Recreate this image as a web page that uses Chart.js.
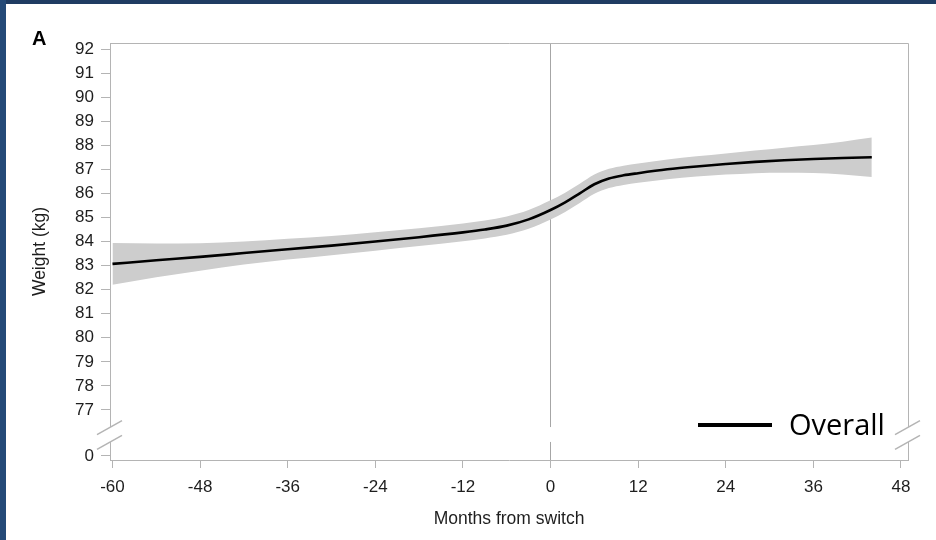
<!DOCTYPE html>
<html>
<head>
<meta charset="utf-8">
<script src="https://cdn.jsdelivr.net/npm/chart.js@4/dist/chart.umd.min.js"></script>
<style>
  html, body { margin: 0; padding: 0; background: #1f3c62; }
  #wrap { width: 936px; height: 540px; }
</style>
</head>
<body>
<div id="wrap"><canvas id="c" width="936" height="540"></canvas></div>
<script>
// ---- data ----
const months = [-60, -54, -48, -42, -36, -30, -24, -18, -12, -9, -6, -3, 0, 2, 4, 6, 8, 10, 12, 16, 20, 24, 28, 32, 36, 40, 44];
const weight = [83.07, 83.22, 83.36, 83.52, 83.68, 83.83, 84.00, 84.18, 84.38, 84.50, 84.66, 84.92, 85.31, 85.63, 86.00, 86.38, 86.62, 86.75, 86.84, 87.00, 87.12, 87.22, 87.31, 87.38, 87.43, 87.47, 87.50];
const upperCI = [83.94, 83.92, 83.93, 84.00, 84.11, 84.23, 84.38, 84.55, 84.75, 84.87, 85.04, 85.31, 85.71, 86.03, 86.40, 86.78, 87.02, 87.15, 87.24, 87.41, 87.54, 87.66, 87.78, 87.90, 88.01, 88.15, 88.32];
const lowerCI = [82.20, 82.52, 82.79, 83.04, 83.25, 83.43, 83.62, 83.81, 84.01, 84.13, 84.28, 84.53, 84.91, 85.23, 85.60, 85.98, 86.22, 86.35, 86.44, 86.59, 86.70, 86.78, 86.84, 86.86, 86.85, 86.79, 86.68];
const xTickValues = [-60, -48, -36, -24, -12, 0, 12, 24, 36, 48];
const yTickValues = [0, 77, 78, 79, 80, 81, 82, 83, 84, 85, 86, 87, 88, 89, 90, 91, 92];
const seriesName = 'Overall';
const panelLabel = 'A';
const xTitle = 'Months from switch';
const yTitle = 'Weight (kg)';

// axis break: the value 0 is drawn just under 77
const ZERO_POS = 75.09;
const BREAK_HI = 76.29, BREAK_LO = 75.67;
const toAxis = v => (v === 0 ? ZERO_POS : v);
const fromAxis = v => (Math.abs(v - ZERO_POS) < 0.01 ? 0 : v);

const pts = arr => months.map((m, i) => ({ x: m, y: arr[i] }));

const AXIS_GREY = '#b4b4b4';
const TEXT = '#1e1e1e';
const FONT = '"Liberation Sans", Arial, sans-serif';

const decor = {
  id: 'decor',
  beforeDraw(chart) {
    const ctx = chart.ctx;
    ctx.save();
    ctx.fillStyle = '#1f3c62';
    ctx.fillRect(0, 0, chart.width, chart.height);
    ctx.fillStyle = '#244a78';
    ctx.fillRect(0, 0, 6, chart.height);
    ctx.fillStyle = '#ffffff';
    ctx.fillRect(6, 4, chart.width - 6, chart.height - 4);
    ctx.restore();
  },
  afterDraw(chart) {
    const ctx = chart.ctx;
    const a = chart.chartArea;
    const xs = chart.scales.x, ys = chart.scales.y;
    ctx.save();
    // top and right frame
    ctx.strokeStyle = AXIS_GREY;
    ctx.lineWidth = 1;
    ctx.beginPath();
    ctx.moveTo(a.left, a.top + 0.5);
    ctx.lineTo(a.right + 0.5, a.top + 0.5);
    ctx.lineTo(a.right + 0.5, a.bottom);
    ctx.stroke();
    // axis break
    const y1 = ys.getPixelForValue(BREAK_HI);
    const y2 = ys.getPixelForValue(BREAK_LO);
    const x0 = xs.getPixelForValue(0);
    ctx.fillStyle = '#ffffff';
    [a.left, x0, a.right].forEach(x => ctx.fillRect(x - 3, y1, 6, y2 - y1));
    ctx.strokeStyle = AXIS_GREY;
    ctx.lineWidth = 1.5;
    [a.left, a.right].forEach(x => {
      [y1, y2].forEach(y => {
        ctx.beginPath();
        ctx.moveTo(x - 13, y + 7.5);
        ctx.lineTo(x + 12, y - 6.5);
        ctx.stroke();
      });
    });
    // panel label
    ctx.fillStyle = '#000';
    ctx.font = 'bold 20px "Liberation Sans", Arial, sans-serif';
    ctx.textBaseline = 'alphabetic';
    ctx.textAlign = 'left';
    ctx.fillText(panelLabel, 32, 45);
    // legend
    const ly = ys.getPixelForValue(BREAK_HI) - 2;
    ctx.strokeStyle = '#000';
    ctx.lineWidth = 4;
    ctx.beginPath();
    ctx.moveTo(a.right - 210, ly);
    ctx.lineTo(a.right - 136, ly);
    ctx.stroke();
    ctx.fillStyle = '#000';
    ctx.font = '29px "Open Sans", sans-serif';
    ctx.textBaseline = 'middle';
    ctx.fillText(seriesName, a.right - 119, ly + 2);
    ctx.restore();
  }
};

new Chart(document.getElementById('c'), {
  type: 'line',
  data: {
    datasets: [
      {
        label: seriesName,
        data: pts(weight),
        borderColor: '#000000',
        borderWidth: 2.6,
        pointRadius: 0,
        fill: false,
        tension: 0.4,
        cubicInterpolationMode: 'monotone'
      },
      {
        label: 'upper',
        data: pts(upperCI),
        borderWidth: 0,
        borderColor: 'rgba(0,0,0,0)',
        backgroundColor: '#cdcdcd',
        pointRadius: 0,
        fill: '+1',
        cubicInterpolationMode: 'monotone'
      },
      {
        label: 'lower',
        data: pts(lowerCI),
        borderWidth: 0,
        borderColor: 'rgba(0,0,0,0)',
        pointRadius: 0,
        fill: false,
        cubicInterpolationMode: 'monotone'
      }
    ]
  },
  options: {
    responsive: false,
    animation: false,
    devicePixelRatio: 1,
    layout: { padding: { top: 43, right: 28, left: 0, bottom: 0 } },
    plugins: { legend: { display: false }, tooltip: { enabled: false } },
    scales: {
      x: {
        type: 'linear',
        min: -60.34,
        max: 48.96,
        afterBuildTicks: s => { s.ticks = xTickValues.map(v => ({ value: v })); },
        afterFit: s => { s.height = 80; },
        grid: {
          drawOnChartArea: true,
          color: c => (c.tick && c.tick.value === 0 ? '#a6a6a6' : 'rgba(0,0,0,0)'),
          tickColor: AXIS_GREY,
          tickLength: 8,
          lineWidth: 1
        },
        border: { display: true, color: AXIS_GREY, width: 1 },
        ticks: {
          color: TEXT,
          padding: 9,
          maxRotation: 0,
          font: { family: FONT, size: 17 },
          callback: v => String(v)
        },
        title: {
          display: true,
          text: xTitle,
          color: TEXT,
          font: { family: FONT, size: 17.5 },
          padding: { top: 0, bottom: 10 }
        }
      },
      y: {
        type: 'linear',
        min: 74.92,
        max: 92.25,
        afterBuildTicks: s => { s.ticks = yTickValues.map(v => ({ value: toAxis(v) })); },
        afterFit: s => { s.width = 110; },
        grid: {
          drawOnChartArea: false,
          tickColor: AXIS_GREY,
          tickLength: 9
        },
        border: { display: true, color: AXIS_GREY, width: 1 },
        ticks: {
          color: TEXT,
          padding: 7,
          font: { family: FONT, size: 17 },
          callback: v => String(fromAxis(v))
        },
        title: {
          display: true,
          text: yTitle,
          color: TEXT,
          font: { family: FONT, size: 17.5 },
          padding: { top: 30, bottom: 0 }
        }
      }
    }
  },
  plugins: [decor]
});
</script>
</body>
</html>
